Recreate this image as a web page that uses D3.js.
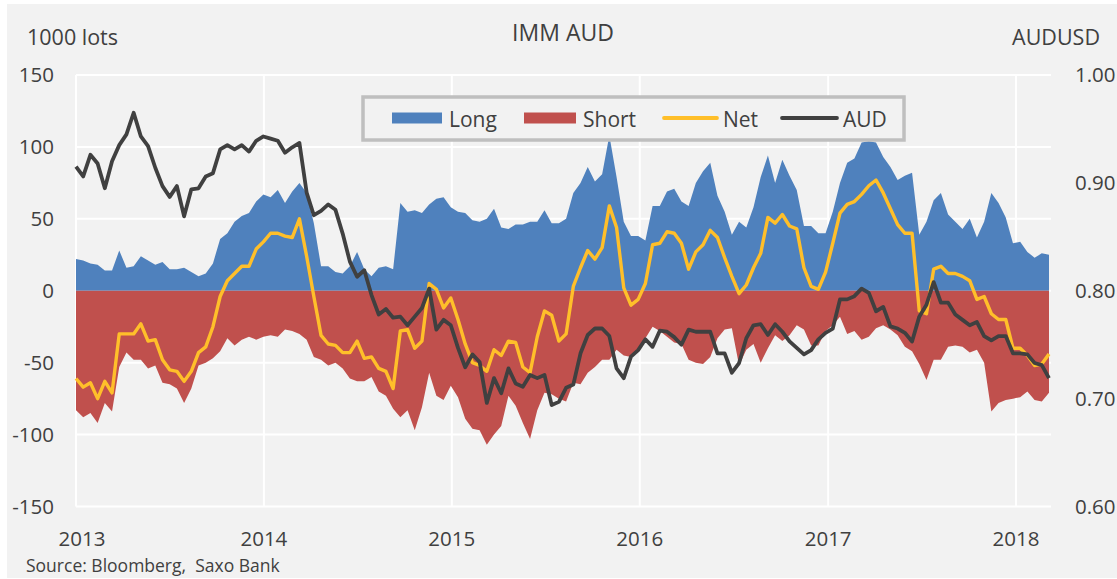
<!DOCTYPE html>
<html>
<head>
<meta charset="utf-8">
<title>IMM AUD</title>
<script src="https://cdn.jsdelivr.net/npm/d3@7"></script>
<style>
  html, body { margin: 0; padding: 0; background: #ffffff; }
  svg { display: block; font-family: "Open Sans", "Noto Sans", sans-serif; }
  text { white-space: pre; }
</style>
</head>
<body>
<svg id="chart" width="1117" height="579"></svg>
<script>
// Bi-weekly observations, starting on the first week of 2013.
const START = new Date(2013, 0, 1);
const STEP_DAYS = 14;

// IMM non-commercial positions, 1000 lots
const longPos = [
  22, 21, 19, 18, 14, 14, 28, 16, 17, 24, 21, 18, 20, 15, 15, 16, 13, 10, 12, 19, 36, 40, 48, 52, 54, 62, 67,
  65, 70, 61, 69, 75, 68, 47, 17, 17, 13, 12, 17, 27, 15, 10, 16, 17, 15, 61, 55, 56, 54, 60, 64, 65, 58, 55,
  54, 49, 48, 50, 57, 44, 43, 46, 46, 48, 48, 56, 47, 47, 50, 68, 75, 86, 76, 81, 108, 79, 48, 38, 38, 35,
  59, 59, 69, 71, 62, 59, 75, 83, 89, 66, 55, 39, 48, 44, 58, 79, 94, 75, 91, 80, 70, 45, 45, 40, 40, 55,
  75, 89, 92, 103, 104, 103, 93, 86, 77, 80, 82, 39, 48, 63, 68, 53, 48, 43, 50, 37, 48, 68, 61, 51, 33, 34, 27, 23, 26, 25
];
const shortPos = [
  -83, -88, -85, -92, -78, -84, -53, -43, -48, -48, -54, -52, -64, -65, -68, -78, -68, -52, -50, -47, -42, -33, -38, -34, -32, -34, -32,
  -31, -32, -27, -28, -30, -34, -46, -48, -52, -50, -54, -61, -63, -63, -60, -70, -73, -82, -88, -83, -97, -81, -57, -73, -76, -66, -74,
  -89, -96, -97, -107, -100, -94, -73, -80, -92, -103, -83, -71, -72, -75, -77, -64, -65, -57, -53, -48, -48, -41, -45, -46, -41, -33,
  -25, -28, -32, -36, -37, -48, -50, -51, -46, -33, -27, -26, -52, -41, -37, -50, -40, -31, -35, -31, -24, -27, -38, -38, -28, -24,
  -18, -30, -28, -34, -32, -26, -24, -27, -31, -39, -42, -51, -62, -48, -48, -39, -38, -39, -43, -41, -50, -84, -78, -76, -75, -74, -70, -76, -77, -71
];
const netPos = [
  -61, -67, -64, -75, -63, -71, -30, -30, -30, -23, -35, -34, -48, -55, -56, -63, -56, -43, -39, -25, -4, 7, 12, 17, 17, 29, 34,
  40, 40, 38, 37, 50, 24, -4, -31, -37, -38, -43, -43, -35, -47, -46, -54, -56, -68, -28, -27, -40, -35, 5, 1, -12, -5, -20,
  -37, -50, -52, -56, -41, -45, -35, -36, -53, -57, -32, -14, -17, -35, -30, 3, 16, 28, 22, 30, 59, 44, 2, -10, -6, 5,
  32, 33, 41, 40, 33, 15, 27, 32, 42, 37, 23, 10, -2, 4, 16, 26, 51, 47, 53, 45, 43, 16, 3, 1, 13, 33,
  54, 60, 62, 67, 73, 77, 68, 57, 46, 40, 40, -14, -16, 15, 17, 12, 12, 10, 7, -6, -4, -16, -20, -20, -40, -40, -45, -52, -51, -44
];
// AUDUSD spot
const audusd = [
  0.915, 0.906, 0.926, 0.918, 0.895, 0.920, 0.935, 0.945, 0.965, 0.943, 0.934, 0.914, 0.897, 0.887, 0.897, 0.869, 0.894, 0.895, 0.906, 0.909, 0.931, 0.935, 0.931, 0.935, 0.929, 0.939, 0.943,
  0.941, 0.939, 0.928, 0.933, 0.937, 0.891, 0.870, 0.874, 0.880, 0.875, 0.853, 0.827, 0.813, 0.819, 0.796, 0.778, 0.783, 0.775, 0.776, 0.768, 0.776, 0.784, 0.802, 0.764, 0.773, 0.768, 0.747,
  0.729, 0.741, 0.734, 0.696, 0.719, 0.705, 0.728, 0.714, 0.711, 0.722, 0.719, 0.722, 0.694, 0.697, 0.710, 0.713, 0.742, 0.759, 0.765, 0.765, 0.758, 0.728, 0.719, 0.739, 0.745, 0.755,
  0.748, 0.763, 0.762, 0.757, 0.750, 0.764, 0.762, 0.762, 0.762, 0.742, 0.742, 0.724, 0.733, 0.756, 0.768, 0.769, 0.759, 0.769, 0.762, 0.753, 0.747, 0.741, 0.745, 0.755, 0.761, 0.765,
  0.792, 0.792, 0.795, 0.802, 0.798, 0.781, 0.785, 0.767, 0.765, 0.761, 0.753, 0.776, 0.787, 0.808, 0.789, 0.789, 0.778, 0.773, 0.768, 0.771, 0.758, 0.754, 0.758, 0.758, 0.742, 0.742, 0.741, 0.733, 0.731, 0.719
];

const leftTicks = [-150, -100, -50, 0, 50, 100, 150];
const rightTicks = [0.6, 0.7, 0.8, 0.9, 1.0];
const yearTicks = [2013, 2014, 2015, 2016, 2017, 2018];

const COLORS = { long: "#4f81bd", short: "#c0504d", net: "#ffbf2a", aud: "#404040" };
const TEXT = "#404040";
const BG = "#f2f2f2";

const svg = d3.select("#chart");
const plot = { left: 76, right: 1049, top: 75, bottom: 506.5 };

const dates = longPos.map((_, i) => d3.timeDay.offset(START, i * STEP_DAYS));
const rows = dates.map((date, i) => ({
  date, long: longPos[i], short: shortPos[i], net: netPos[i], aud: audusd[i]
}));

const x = d3.scaleTime()
  .domain([START, dates[dates.length - 1]])
  .range([plot.left, plot.right]);
const y = d3.scaleLinear().domain([-150, 150]).range([plot.bottom, plot.top]);
const y2 = d3.scaleLinear().domain([0.6, 1.0]).range([plot.bottom, plot.top]);

// chart background
svg.append("rect")
  .attr("x", 7).attr("y", 4).attr("width", 1110).attr("height", 574)
  .attr("fill", BG);

// gridlines go under the areas
const grid = svg.append("g").attr("stroke", "#ffffff").attr("stroke-width", 2);
grid.selectAll("line.h").data(leftTicks).join("line")
  .attr("class", "h")
  .attr("x1", plot.left).attr("x2", plot.right + 2)
  .attr("y1", (d) => y(d)).attr("y2", (d) => y(d));
grid.selectAll("line.v").data(yearTicks).join("line")
  .attr("class", "v")
  .attr("x1", (d) => x(new Date(d, 0, 1))).attr("x2", (d) => x(new Date(d, 0, 1)))
  .attr("y1", plot.top).attr("y2", plot.bottom);

// long / short stacked around zero
const areaOf = (key) => d3.area()
  .x((d) => x(d.date))
  .y0(y(0))
  .y1((d) => y(d[key]));

svg.append("path").datum(rows)
  .attr("d", areaOf("long")).attr("fill", COLORS.long);
svg.append("path").datum(rows)
  .attr("d", areaOf("short")).attr("fill", COLORS.short);

const netLine = d3.line().x((d) => x(d.date)).y((d) => y(d.net));
const audLine = d3.line().x((d) => x(d.date)).y((d) => y2(d.aud));

svg.append("path").datum(rows)
  .attr("d", netLine)
  .attr("fill", "none").attr("stroke", COLORS.net)
  .attr("stroke-width", 3.4).attr("stroke-linejoin", "round");
svg.append("path").datum(rows)
  .attr("d", audLine)
  .attr("fill", "none").attr("stroke", COLORS.aud)
  .attr("stroke-width", 3.8).attr("stroke-linejoin", "round");

// axes (labels only, Excel style)
const labels = svg.append("g").attr("fill", TEXT).attr("font-size", 20.5);

labels.selectAll("text.yl").data(leftTicks).join("text")
  .attr("class", "yl")
  .attr("x", 54).attr("y", (d) => y(d) + 7)
  .attr("text-anchor", "end")
  .text((d) => d);

labels.selectAll("text.yr").data(rightTicks).join("text")
  .attr("class", "yr")
  .attr("x", 1075).attr("y", (d) => y2(d) + 7)
  .attr("text-anchor", "start")
  .text((d) => d.toFixed(2));

labels.selectAll("text.xl").data(yearTicks).join("text")
  .attr("class", "xl")
  .attr("x", (d) => Math.max(x(new Date(d, 0, 1)), 82))
  .attr("y", 546)
  .attr("text-anchor", "middle")
  .text((d) => d);

labels.append("text").attr("x", 27).attr("y", 45).attr("font-size", 21.5).text("1000 lots");
labels.append("text").attr("x", 1100).attr("y", 45).attr("text-anchor", "end")
  .attr("font-size", 21.5).text("AUDUSD");
labels.append("text").attr("x", 563).attr("y", 41).attr("text-anchor", "middle")
  .attr("font-size", 23).text("IMM AUD");
labels.append("text").attr("x", 26).attr("y", 572).attr("font-size", 17.5)
  .text("Source: Bloomberg,  Saxo Bank");

// legend
const legend = svg.append("g");
legend.append("rect")
  .attr("x", 363).attr("y", 97).attr("width", 541).attr("height", 43)
  .attr("fill", BG).attr("stroke", "#bfbfbf").attr("stroke-width", 3.5);

const legendItems = [
  { name: "Long", type: "rect", color: COLORS.long, x0: 392, x1: 442, tx: 449 },
  { name: "Short", type: "rect", color: COLORS.short, x0: 524, x1: 576, tx: 583 },
  { name: "Net", type: "line", color: COLORS.net, x0: 664, x1: 717, tx: 723 },
  { name: "AUD", type: "line", color: COLORS.aud, x0: 782, x1: 837, tx: 843 },
];
legendItems.forEach((it) => {
  if (it.type === "rect") {
    legend.append("rect")
      .attr("x", it.x0).attr("y", 112.5).attr("width", it.x1 - it.x0).attr("height", 11)
      .attr("fill", it.color);
  } else {
    legend.append("line")
      .attr("x1", it.x0).attr("x2", it.x1).attr("y1", 118).attr("y2", 118)
      .attr("stroke", it.color).attr("stroke-width", 3.8).attr("stroke-linecap", "round");
  }
  legend.append("text")
    .attr("x", it.tx).attr("y", 126.5)
    .attr("fill", TEXT).attr("font-size", 21)
    .text(it.name);
});
</script>
</body>
</html>
